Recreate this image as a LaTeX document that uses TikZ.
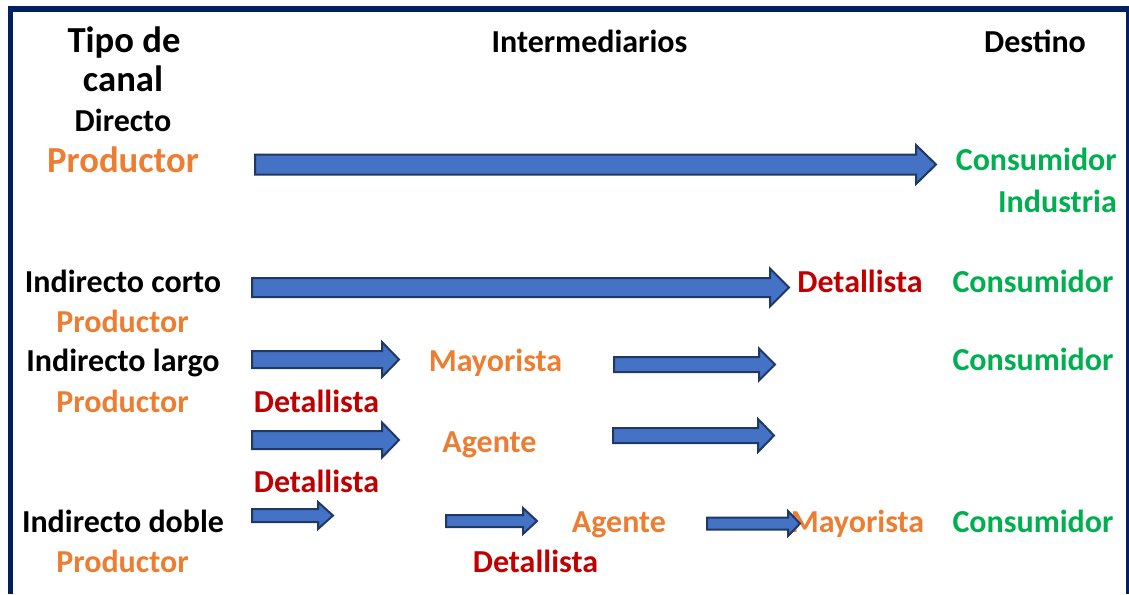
\documentclass[tikz,border=0pt]{standalone}
\usepackage{fontspec}
\setmainfont{Carlito}
\definecolor{frame}{HTML}{002060}
\definecolor{orng}{HTML}{ED7D31}
\definecolor{grn}{HTML}{00B050}
\definecolor{dred}{HTML}{C00000}
\definecolor{afill}{HTML}{4472C4}
\definecolor{aline}{HTML}{1F3864}
\newcommand{\blkarrow}[6]{%
  \draw[barrow] (#1,#4-#5) -- (#2,#4-#5) -- (#2,#4-#6) -- (#3,#4) -- (#2,#4+#6) -- (#2,#4+#5) -- (#1,#4+#5) -- cycle;}
\begin{document}
\begin{tikzpicture}[x=0.75pt,y=-0.75pt,
  txt/.style={inner sep=0pt,anchor=base,font=\bfseries\fontsize{24}{28}\selectfont},
  big/.style={txt,font=\bfseries\fontsize{27.5}{32}\selectfont},
  blk/.style={txt,text=black},
  org/.style={txt,text=orng},
  gr/.style={txt,text=grn},
  rd/.style={txt,text=dred},
  barrow/.style={fill=afill,draw=aline,line width=1.5pt,line join=miter}]
\useasboundingbox (0,0) rectangle (1129,594);
% frame
\fill[frame] (8,6) rectangle (1129,12);
\fill[frame] (8,6) rectangle (13,594);
\fill[frame] (1126,6) rectangle (1128.5,594);
% headers
\node[big,text=black] (tipo) at (124,52) {Tipo de};
\node[big,text=black] (canal) at (123,91) {canal};
\node[blk] (inter) at (589.5,52) {Intermediarios};
\node[blk] (dest) at (1035,52) {Destino};
% row 1
\node[blk] (dir) at (123,131) {Directo};
\node[big,text=orng] (prod1) at (123,172) {Productor};
\node[gr,anchor=base east] (cons1) at (1117,170) {Consumidor};
\node[gr,anchor=base east] (ind1) at (1117,212) {Industria};
\blkarrow{255}{916}{936}{164.5}{10}{19.5}
% row 2
\node[blk] (corto) at (123,292) {Indirecto corto};
\node[org] (prod2) at (122.5,332) {Productor};
\node[rd] (det2) at (860,292) {Detallista};
\node[gr] (cons2) at (1033,292) {Consumidor};
\blkarrow{252}{770}{789}{287.5}{9.5}{19}
% row 3
\node[blk] (largo) at (123,371) {Indirecto largo};
\node[org] (prod3) at (122.5,412) {Productor};
\node[rd] (det3) at (316.5,412) {Detallista};
\node[org] (may3) at (495.5,371) {Mayorista};
\node[gr] (cons3) at (1033,370) {Consumidor};
\blkarrow{252}{382}{399}{359.5}{8.5}{17.5}
\blkarrow{614}{759}{775}{364.5}{7.5}{16}
% row 4
\node[org] (age4) at (489.5,452) {Agente};
\node[rd] (det4) at (316.5,492) {Detallista};
\blkarrow{252}{382}{399}{440}{9}{17.5}
\blkarrow{613}{758}{774}{435.5}{7.5}{16.5}
% row 5
\node[blk] (doble) at (123,532) {Indirecto doble};
\node[org] (prod5) at (122.5,572) {Productor};
\node[rd] (det5) at (535.5,572) {Detallista};
\node[org] (age5) at (619,532) {Agente};
\node[org] (may5) at (857.5,532) {Mayorista};
\node[gr] (cons5) at (1033,532) {Consumidor};
\blkarrow{252}{318}{333}{515.5}{6.5}{13.5}
\blkarrow{446}{523}{537}{521}{6}{13}
\blkarrow{707}{788}{800}{523.5}{6}{12.5}
\end{tikzpicture}
\end{document}
